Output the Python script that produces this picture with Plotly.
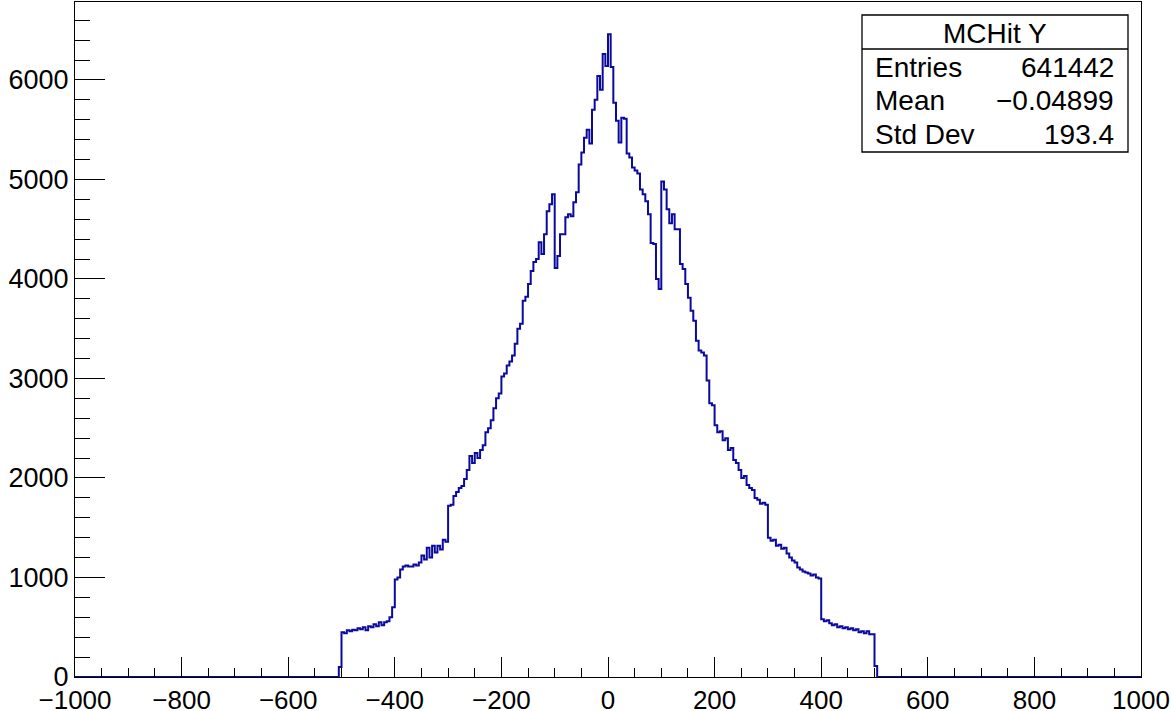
import plotly.graph_objects as go
import numpy as np

# ---- data ----
hist_title = "MCHit Y"
x_min, x_max, bin_width = -1000, 1000, 5
first_filled_edge = -505
counts_filled = [
    100,                                                        # -505
    450, 440, 470, 460, 475, 470, 490, 480, 500, 470,           # -500 .. -455
    510, 500, 530, 510, 550, 520, 550, 560, 600, 700,           # -450 .. -405
    980, 1000, 1080, 1110, 1120, 1110, 1110, 1130, 1120, 1150,  # -400 .. -355
    1220, 1180, 1300, 1200, 1320, 1250, 1320, 1280, 1380, 1360, # -350 .. -305
    1720, 1730, 1820, 1860, 1900, 1920, 1990, 2080, 2220, 2150, # -300 .. -255
    2250, 2200, 2280, 2330, 2460, 2500, 2580, 2700, 2800, 2850, # -250 .. -205
    3020, 3050, 3130, 3170, 3230, 3350, 3500, 3550, 3780, 3820, # -200 .. -155
    3950, 4080, 4170, 4200, 4370, 4250, 4450, 4680, 4750, 4850, # -150 .. -105
    4110, 4230, 4450, 4450, 4620, 4650, 4630, 4770, 4870, 5150, # -100 .. -55
    5270, 5420, 5500, 5360, 5700, 5800, 6040, 5900, 6260, 6140, # -50 .. -5
    6460, 6130, 5770, 5590, 5370, 5620, 5610, 5260, 5220, 5120, # 0 .. 45
    5090, 5060, 4900, 4850, 4780, 4650, 4360, 4350, 4000, 3900, # 50 .. 95
    4980, 4900, 4700, 4560, 4650, 4500, 4500, 4150, 4100, 3950, # 100 .. 145
    3810, 3680, 3580, 3380, 3280, 3260, 3230, 2980, 2750, 2730, # 150 .. 195
    2530, 2460, 2470, 2380, 2400, 2280, 2300, 2180, 2150, 2080, # 200 .. 245
    2000, 2020, 1930, 1900, 1880, 1800, 1780, 1740, 1750, 1730, # 250 .. 295
    1400, 1370, 1380, 1320, 1330, 1290, 1300, 1240, 1200, 1170, # 300 .. 345
    1150, 1100, 1080, 1060, 1050, 1040, 1020, 1030, 1000, 990,  # 350 .. 395
    580, 560, 570, 540, 520, 530, 500, 510, 490, 500,           # 400 .. 445
    480, 490, 470, 480, 450, 460, 440, 460, 430, 430,           # 450 .. 495
    110,                                                        # 500
]
stats_labels = ["Entries", "Mean", "Std Dev"]
stats_values = ["641442", "\u22120.04899", "193.4"]

# ---- build full histogram (empty bins are zero) ----
edges = np.arange(x_min, x_max + bin_width, bin_width)
counts = np.zeros(len(edges) - 1)
start = int(round((first_filled_edge - x_min) / bin_width))
counts[start:start + len(counts_filled)] = counts_filled

xs = list(edges)
ys = list(counts) + [counts[-1]]
y_top = 1.05 * max(counts_filled)

FONT = "Liberation Sans, Arial, Helvetica, sans-serif"
XTICK_SIZE = 26
YTICK_SIZE = 27
STAT_SIZE = 28

fig = go.Figure()
fig.add_trace(go.Scatter(
    x=xs, y=ys, mode="lines", line_shape="hv",
    line=dict(color="#0a0a9e", width=2), showlegend=False, hoverinfo="skip",
))

fig.update_layout(
    width=1171, height=711,
    margin=dict(l=75, r=30, t=2, b=34, autoexpand=False),
    paper_bgcolor="white", plot_bgcolor="white",
    font=dict(family=FONT, size=XTICK_SIZE, color="black"),
    showlegend=False,
)
fig.update_xaxes(
    range=[x_min, x_max], showgrid=False, zeroline=False,
    showline=True, linecolor="black", linewidth=1, mirror=True,
    ticks="inside", ticklen=20, tickcolor="black", tickwidth=1,
    dtick=200, tick0=0,
    minor=dict(ticks="inside", ticklen=9, dtick=50, tickcolor="black", showgrid=False),
    tickfont=dict(family=FONT, size=XTICK_SIZE, color="black"),
)
fig.update_yaxes(
    range=[0, y_top], showgrid=False, zeroline=False,
    showline=True, linecolor="black", linewidth=1, mirror=True,
    ticks="inside", ticklen=30, tickcolor="black", tickwidth=1,
    dtick=1000, tick0=0,
    minor=dict(ticks="inside", ticklen=15, dtick=200, tickcolor="black", showgrid=False),
    tickfont=dict(family=FONT, size=YTICK_SIZE, color="black"),
)

# ---- stats box ----
def px(xp):
    return (xp - 75) / 1066.0

def py(yp):
    return (677 - yp) / 675.0

bx0, bx1, by0, by1 = px(862), px(1128), py(152), py(15)
fig.add_shape(type="rect", xref="paper", yref="paper", x0=bx0, x1=bx1, y0=by0, y1=by1,
              line=dict(color="black", width=1.3), fillcolor="white", layer="above")
fig.add_shape(type="line", xref="paper", yref="paper", x0=bx0, x1=bx1, y0=py(49), y1=py(49),
              line=dict(color="black", width=1.3), layer="above")
fig.add_annotation(xref="paper", yref="paper", x=(bx0 + bx1) / 2, y=py(33), text=hist_title,
                   showarrow=False, xanchor="center", yanchor="middle",
                   font=dict(family=FONT, size=STAT_SIZE, color="black"))
row_y = [67, 100, 134]
for lab, val, ry in zip(stats_labels, stats_values, row_y):
    fig.add_annotation(xref="paper", yref="paper", x=px(873), y=py(ry), text=lab,
                       showarrow=False, xanchor="left", yanchor="middle",
                       font=dict(family=FONT, size=STAT_SIZE, color="black"))
    fig.add_annotation(xref="paper", yref="paper", x=px(1116), y=py(ry), text=val,
                       showarrow=False, xanchor="right", yanchor="middle",
                       font=dict(family=FONT, size=STAT_SIZE, color="black"))

fig.write_html("out.html", config={"displayModeBar": False},
               post_script="document.body.style.margin='0';document.body.style.padding='0';")
